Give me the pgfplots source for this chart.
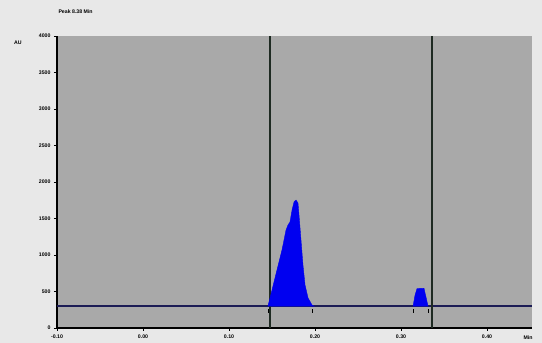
\documentclass[border=0pt]{standalone}
\usepackage{fontspec}
\setmainfont{Liberation Sans}
\usepackage{pgfplots}
\pgfplotsset{compat=1.18}
\usetikzlibrary{backgrounds}
\definecolor{pagebg}{HTML}{E8E8E8}
\definecolor{plotbg}{HTML}{A9A9A9}
\definecolor{baseln}{HTML}{1C1C55}
\definecolor{vline}{HTML}{1E2A22}
\definecolor{peakblue}{HTML}{0000F0}
\begin{document}
\begin{tikzpicture}
\begin{axis}[
  scale only axis, width=475pt, height=292pt,
  xmin=0, xmax=5.523, ymin=0, ymax=4000,
  axis background/.style={fill=plotbg},
  axis line style={line width=1.3pt, black},
  axis x line*=bottom, axis y line*=left,
  tick align=outside, tick style={black, line width=0.6pt},
  major tick length=3pt,
  xtick={0,1,2,3,4,5},
  xticklabels={-0.10,0.00,0.10,0.20,0.30,0.40},
  ytick={0,500,1000,1500,2000,2500,3000,3500,4000},
  scaled y ticks=false,
  yticklabel style={/pgf/number format/1000 sep={}},
  /pgf/number format/assume math mode=true,
  ticklabel style={font=\fontsize{5.2}{6}\selectfont\bfseries},
  clip=false,
]
% baseline
\addplot[baseln, line width=1.3pt] coordinates {(0,301) (5.523,301)};
% vertical markers
\addplot[vline, line width=1.2pt] coordinates {(2.477,0) (2.477,4000)};
\addplot[vline, line width=1.2pt] coordinates {(4.36,0) (4.36,4000)};
% peak 1
\addplot[fill=peakblue, draw=peakblue, line width=0.4pt] coordinates {
(2.453,300) (2.500,520) (2.558,795) (2.616,1068) (2.663,1342) (2.686,1411)
(2.709,1452) (2.733,1616) (2.756,1726) (2.779,1753) (2.802,1712) (2.814,1548)
(2.837,1205) (2.860,863) (2.884,589) (2.919,411) (2.965,315) (2.988,300)} -- cycle;
% peak 2
\addplot[fill=peakblue, draw=peakblue, line width=0.4pt] coordinates {
(4.140,300) (4.163,450) (4.186,540) (4.267,545) (4.291,420) (4.314,300)} -- cycle;
% peak boundary markers
\addplot[only marks, mark=|, mark size=2pt, black, line width=0.6pt] coordinates {(2.453,230) (2.965,230) (4.140,230) (4.314,230)};
\node[anchor=west, font=\fontsize{5.2}{6}\selectfont\bfseries] at (rel axis cs:0,1) [yshift=24pt, xshift=-2pt] {Peak 8.38 Min};
\node[font=\fontsize{5.2}{6}\selectfont\bfseries] at (rel axis cs:0,1) [xshift=-39pt, yshift=-7pt] {AU};
\node[font=\fontsize{5.2}{6}\selectfont\bfseries] at (rel axis cs:1,0) [xshift=-4pt, yshift=-10pt] {Min};
\end{axis}
\begin{scope}[on background layer]
\fill[pagebg] (-57pt,-15pt) rectangle (485pt,328pt);
\end{scope}
\pgfresetboundingbox
\path[use as bounding box] (-57pt,-15pt) rectangle (485pt,328pt);
\end{tikzpicture}
\end{document}
